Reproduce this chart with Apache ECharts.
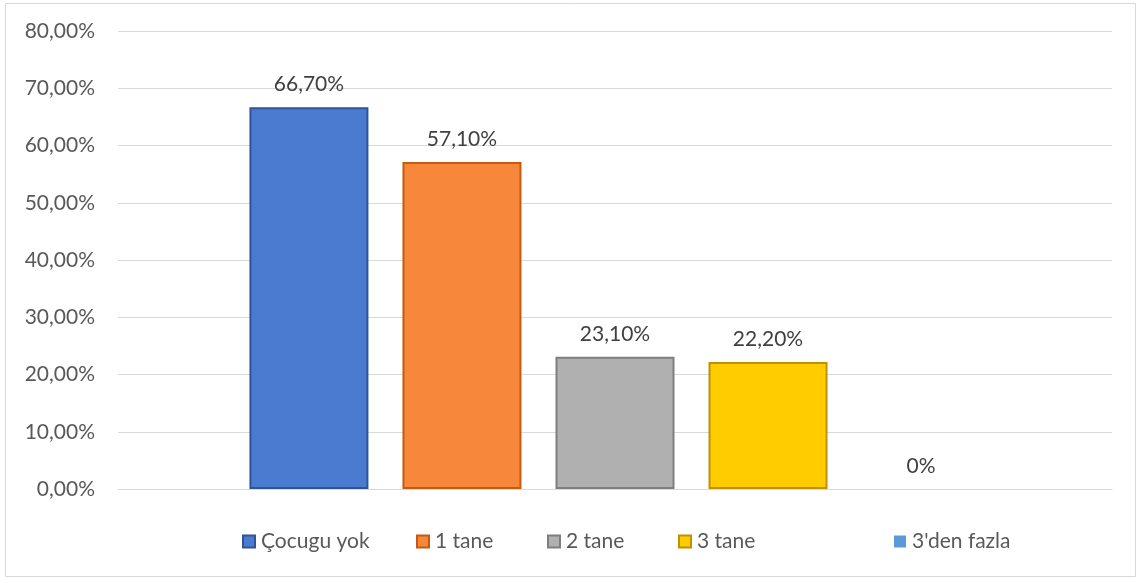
<!DOCTYPE html>
<html><head><meta charset="utf-8">
<script src="https://cdn.jsdelivr.net/npm/echarts@6/dist/echarts.min.js"></script>
<style>html,body{margin:0;padding:0;background:#fff}#c{width:1146px;height:583px}</style>
</head><body><div id="c"></div>
<script>
const seriesNames = ["Çocugu yok", "1 tane", "2 tane", "3 tane", "3'den fazla"];
const seriesValues = [66.7, 57.1, 23.1, 22.2, 0];
const faceColors = ["#4a7bd0", "#f7873a", "#b0b0b0", "#ffcc00", "#5b9bd5"];
const edgeColors = ["#2f5597", "#c55a11", "#7f7f7f", "#bf9000", "#41719c"];
const legendLeft = [237, 411, 542, 673, 889];
const yTicks = [0, 10, 20, 30, 40, 50, 60, 70, 80];

const font = 'Lato, "Noto Sans", sans-serif';
const fmt = v => v === 0 ? '0%' : v.toFixed(2).replace('.', ',') + '%';
const chart = echarts.init(document.getElementById('c'), null, {renderer: 'canvas'});
chart.setOption({
  animation: false,
  backgroundColor: '#fff',
  textStyle: {fontFamily: font},
  graphic: [{type: 'rect', shape: {x: 5.5, y: 3.5, width: 1130, height: 573}, style: {fill: 'none', stroke: '#d9d9d9', lineWidth: 1}}],
  legend: seriesNames.map((n, i) => ({
    data: [n], left: legendLeft[i], top: 526, itemWidth: 12, itemHeight: 12, itemGap: 0,
    icon: 'rect', selectedMode: false,
    textStyle: {fontFamily: font, fontSize: 21, color: '#595959', padding: [0, 0, 0, 1]}
  })),
  grid: {left: 118, right: 34, top: 31, bottom: 94},
  xAxis: {type: 'category', data: [''], axisTick: {show: false}, axisLabel: {show: false},
    axisLine: {lineStyle: {color: '#d9d9d9'}}},
  yAxis: {type: 'value', min: yTicks[0], max: yTicks[yTicks.length - 1], interval: 10,
    axisLabel: {formatter: v => v.toFixed(2).replace('.', ',') + '%', fontFamily: font, fontSize: 21, color: '#595959', margin: 23},
    axisLine: {show: false}, axisTick: {show: false},
    splitLine: {lineStyle: {color: '#d9d9d9', width: 1}}},
  series: seriesNames.map((n, i) => ({
    name: n, type: 'bar', data: [seriesValues[i]], barWidth: 119, barGap: '28.6%',
    itemStyle: {color: faceColors[i], borderColor: edgeColors[i], borderWidth: seriesValues[i] ? 2 : 0},
    label: {show: true, position: 'top', distance: 12, formatter: p => fmt(p.value),
      fontFamily: font, fontSize: 21, color: '#404040'}
  }))
});
</script></body></html>
